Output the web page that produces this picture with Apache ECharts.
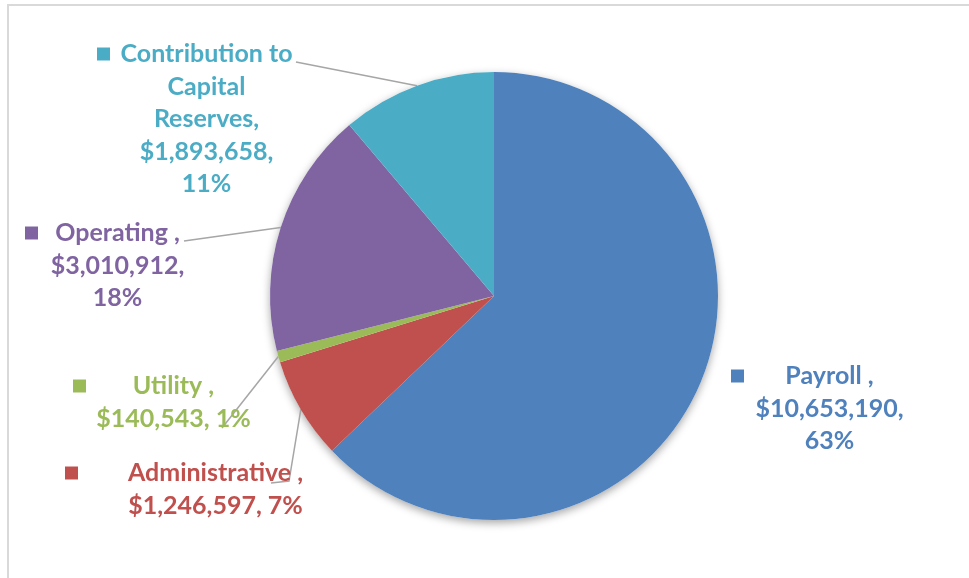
<!DOCTYPE html>
<html><head><meta charset="utf-8">
<script src="https://cdn.jsdelivr.net/npm/echarts@6/dist/echarts.min.js"></script>
<style>html,body{margin:0;padding:0;background:#fff}#c{width:969px;height:578px}</style>
</head><body><div id="c"></div>
<script>
// ---- data ----
const categories = ['Payroll', 'Administrative', 'Utility', 'Operating', 'Contribution to Capital Reserves'];
const values = [10653190, 1246597, 140543, 3010912, 1893658];
const sliceColors = ['#4F81BD', '#C0504D', '#9BBB59', '#8064A2', '#4BACC6'];
// label text as wrapped in the picture
const labelTexts = [
  ['Payroll ,', '$10,653,190,', '63%'],
  ['Administrative ,', '$1,246,597, 7%'],
  ['Utility ,', '$140,543, 1%'],
  ['Operating ,', '$3,010,912,', '18%'],
  ['Contribution to', 'Capital', 'Reserves,', '$1,893,658,', '11%']
];

// ---- layout (label boxes: left, top, width; label-line end points) ----
const LH = 32.5;
const labelBoxes = [
  [731, 376 - LH / 2, 184],
  [65, 473 - LH / 2, 288],
  [73, 386 - LH / 2, 188],
  [25, 233 - LH / 2, 172],
  [97, 54 - LH / 2, 206]
];
const lineEnds = [
  null,
  [[289, 481], [271, 483]],
  [[222, 428]],
  [[184, 241]],
  [[296, 62]]
];

const chart = echarts.init(document.getElementById('c'), null, {renderer: 'canvas'});
const total = values.reduce((a, b) => a + b, 0);
const font = {fontFamily: 'Lato', fontWeight: 'bold', fontSize: 25, lineHeight: LH};

const data = categories.map((name, i) => ({
  name: name,
  value: values[i],
  itemStyle: {color: sliceColors[i]},
  labelLine: {show: i !== 0},
  label: {
    width: labelBoxes[i][2],
    rich: {
      m: {width: 13, height: 13, backgroundColor: sliceColors[i], align: 'left', lineHeight: LH},
      s: {width: 13, align: 'left', lineHeight: LH},
      t: Object.assign({color: sliceColors[i], align: 'center'}, font)
    }
  }
}));

chart.setOption({
  backgroundColor: '#ffffff',
  animation: false,
  graphic: [{
    type: 'rect', shape: {x: 8, y: 5, width: 3000, height: 3000},
    style: {fill: 'none', stroke: '#D9D9D9', lineWidth: 2}, silent: true, z: -10
  }],
  series: [
    {
      type: 'pie', silent: true, z: 1,
      center: [494, 296], radius: 224,
      label: {show: false}, labelLine: {show: false},
      itemStyle: {color: '#ffffff', shadowBlur: 9, shadowOffsetY: 3, shadowColor: 'rgba(0,0,0,0.35)'},
      data: [{name: 'total', value: total}]
    },
    {
      type: 'pie', z: 2,
      center: [494, 296], radius: 224,
      startAngle: 90, clockwise: true,
      avoidLabelOverlap: false,
      itemStyle: {borderWidth: 0},
      label: {
        show: true, position: 'outside', overflow: 'none',
        formatter: function (p) {
          return labelTexts[p.dataIndex].map((ln, k) => (k === 0 ? '{m| }' : '{s| }') + '{t|' + ln + '}').join('\n');
        }
      },
      labelLine: {show: true, lineStyle: {color: '#A6A6A6', width: 1.5}},
      labelLayout: function (params) {
        const i = params.dataIndex;
        const b = labelBoxes[i];
        const out = {x: b[0], y: b[1], align: 'left', verticalAlign: 'top'};
        if (lineEnds[i] && params.labelLinePoints) {
          out.labelLinePoints = [params.labelLinePoints[0]].concat(lineEnds[i]);
        }
        return out;
      },
      data: data
    }
  ]
});
</script></body></html>
